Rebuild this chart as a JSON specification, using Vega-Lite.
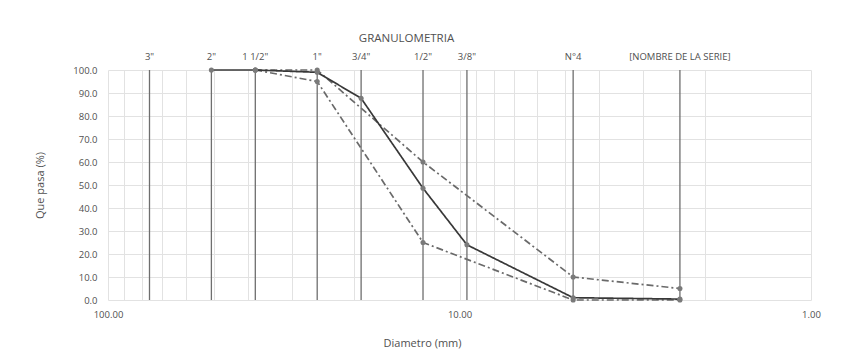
{
  "$schema": "https://vega.github.io/schema/vega-lite/v6.json",
  "width": 703,
  "height": 230,
  "autosize": {"type": "none"},
  "padding": {"left": 108, "top": 70, "right": 35, "bottom": 60},
  "background": "white",
  "config": {
    "font": "Open Sans",
    "view": {"stroke": null},
    "axis": {
      "labelColor": "#505050",
      "titleColor": "#505050",
      "titleFontWeight": "normal",
      "labelFontSize": 9.5,
      "titleFontSize": 11,
      "gridColor": "#e2e2e2",
      "gridWidth": 1,
      "ticks": false,
      "domain": false
    }
  },
  "title": {
    "text": "GRANULOMETRIA",
    "fontSize": 11.5,
    "fontWeight": "normal",
    "color": "#505050",
    "anchor": "middle",
    "frame": "group",
    "dx": -53,
    "offset": 8
  },
  "datasets": {
    "tamices": [
      {"tamiz": "3\"", "d": 76.2},
      {"tamiz": "2\"", "d": 50.8},
      {"tamiz": "1 1/2\"", "d": 38.1},
      {"tamiz": "1\"", "d": 25.4},
      {"tamiz": "3/4\"", "d": 19.05},
      {"tamiz": "1/2\"", "d": 12.7},
      {"tamiz": "3/8\"", "d": 9.525},
      {"tamiz": "N°4", "d": 4.75},
      {"tamiz": "[NOMBRE DE LA SERIE]", "d": 2.36}
    ],
    "curvas": [
      {"serie": "Límite superior", "d": 38.1, "p": 100},
      {"serie": "Límite superior", "d": 25.4, "p": 100},
      {"serie": "Límite superior", "d": 12.7, "p": 60},
      {"serie": "Límite superior", "d": 4.75, "p": 10},
      {"serie": "Límite superior", "d": 2.36, "p": 5},
      {"serie": "Límite inferior", "d": 38.1, "p": 100},
      {"serie": "Límite inferior", "d": 25.4, "p": 95},
      {"serie": "Límite inferior", "d": 12.7, "p": 25},
      {"serie": "Límite inferior", "d": 4.75, "p": 0},
      {"serie": "Límite inferior", "d": 2.36, "p": 0},
      {"serie": "Muestra", "d": 50.8, "p": 100},
      {"serie": "Muestra", "d": 38.1, "p": 100},
      {"serie": "Muestra", "d": 25.4, "p": 99},
      {"serie": "Muestra", "d": 19.05, "p": 87.7},
      {"serie": "Muestra", "d": 12.7, "p": 48.6},
      {"serie": "Muestra", "d": 9.525, "p": 24},
      {"serie": "Muestra", "d": 4.75, "p": 1},
      {"serie": "Muestra", "d": 2.36, "p": 0.4}
    ]
  },
  "layer": [
    {
      "data": {"name": "curvas"},
      "mark": {"type": "line", "strokeJoin": "round"},
      "encoding": {
        "x": {
          "field": "d",
          "type": "quantitative",
          "scale": {"type": "log", "domain": [1, 100], "reverse": true, "nice": false},
          "axis": {
            "orient": "bottom",
            "values": [1, 2, 3, 4, 5, 6, 7, 8, 9, 10, 20, 30, 40, 50, 60, 70, 80, 90, 100],
            "labelExpr": "indexof([1, 10, 100], datum.value) >= 0 ? format(datum.value, '.2f') : ''",
            "labelFlush": false,
            "labelOverlap": false,
            "labelPadding": 9,
            "grid": true,
            "title": "Diametro (mm)",
            "titleX": 314,
            "titleY": 43,
            "titleBaseline": "middle"
          }
        },
        "y": {
          "field": "p",
          "type": "quantitative",
          "scale": {"domain": [0, 100], "nice": false},
          "axis": {
            "values": [0, 10, 20, 30, 40, 50, 60, 70, 80, 90, 100],
            "format": ".1f",
            "grid": true,
            "labelOverlap": false,
            "labelPadding": 11,
            "title": "Que pasa (%)",
            "titlePadding": 27
          }
        },
        "color": {
          "field": "serie",
          "type": "nominal",
          "scale": {"domain": ["Límite superior", "Límite inferior", "Muestra"], "range": ["#6a6a6a", "#6a6a6a", "#383838"]},
          "legend": null
        },
        "strokeDash": {
          "field": "serie",
          "type": "nominal",
          "scale": {"domain": ["Límite superior", "Límite inferior", "Muestra"], "range": [[7, 3, 2, 3], [7, 3, 2, 3], [1, 0]]},
          "legend": null
        },
        "strokeWidth": {
          "field": "serie",
          "type": "nominal",
          "scale": {"domain": ["Límite superior", "Límite inferior", "Muestra"], "range": [1.7, 1.7, 2.2]},
          "legend": null
        }
      }
    },
    {
      "data": {"name": "tamices"},
      "mark": {"type": "rule", "color": "#6e6e6e", "strokeWidth": 1.3},
      "encoding": {
        "x": {"field": "d", "type": "quantitative"},
        "y": {
          "datum": 0,
          "type": "quantitative",
          "axis": {
            "values": [0, 10, 20, 30, 40, 50, 60, 70, 80, 90, 100],
            "format": ".1f",
            "grid": true,
            "labelOverlap": false,
            "labelPadding": 11,
            "title": "Que pasa (%)",
            "titlePadding": 27
          }
        },
        "y2": {"datum": 100}
      }
    },
    {
      "data": {"name": "tamices"},
      "mark": {"type": "text", "color": "#505050", "fontSize": 9.5, "baseline": "middle", "align": "center", "dy": -13},
      "encoding": {
        "x": {"field": "d", "type": "quantitative"},
        "y": {
          "datum": 100,
          "type": "quantitative",
          "axis": {
            "values": [0, 10, 20, 30, 40, 50, 60, 70, 80, 90, 100],
            "format": ".1f",
            "grid": true,
            "labelOverlap": false,
            "labelPadding": 11,
            "title": "Que pasa (%)",
            "titlePadding": 27
          }
        },
        "text": {"field": "tamiz"}
      }
    },
    {
      "data": {"name": "curvas"},
      "mark": {"type": "point", "filled": true, "shape": "circle", "size": 26, "color": "#7a7a7a", "opacity": 1},
      "encoding": {
        "x": {"field": "d", "type": "quantitative"},
        "y": {
          "field": "p",
          "type": "quantitative",
          "axis": {
            "values": [0, 10, 20, 30, 40, 50, 60, 70, 80, 90, 100],
            "format": ".1f",
            "grid": true,
            "labelOverlap": false,
            "labelPadding": 11,
            "title": "Que pasa (%)",
            "titlePadding": 27
          }
        }
      }
    }
  ]
}
